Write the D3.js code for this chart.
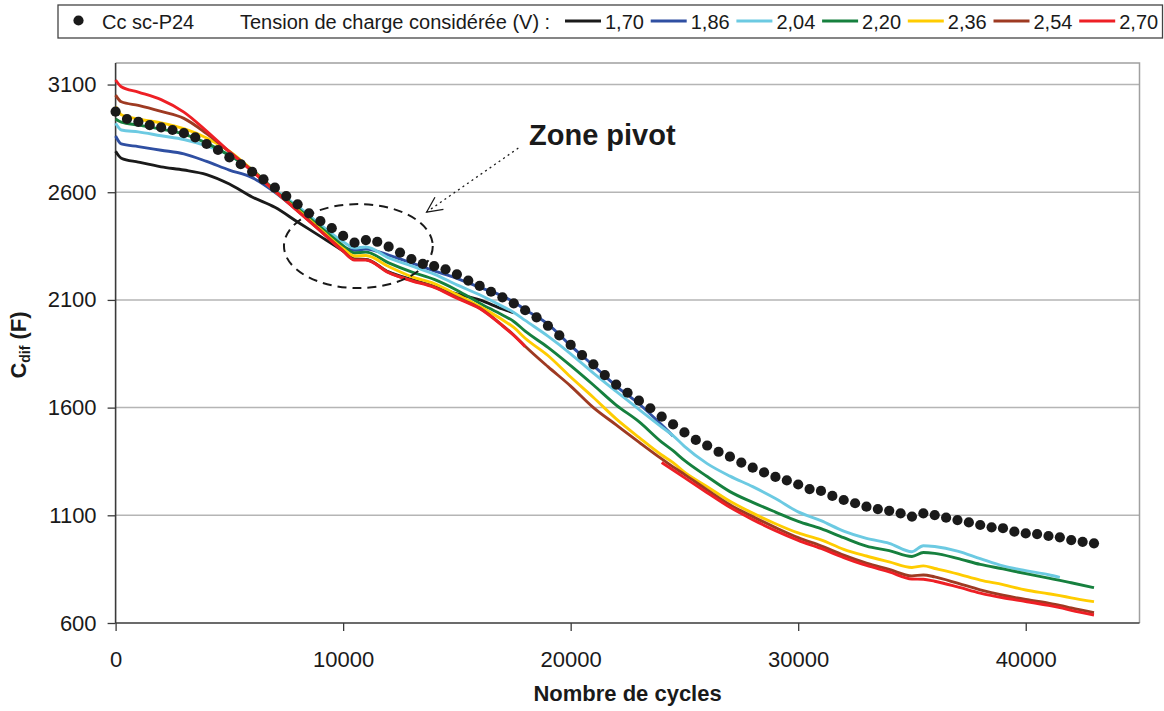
<!DOCTYPE html>
<html><head><meta charset="utf-8">
<script src="https://cdn.jsdelivr.net/npm/d3@7"></script>
<style>
body{margin:0;background:#fff}
svg{display:block}
text{font-family:"Liberation Sans",Arial,Helvetica,sans-serif;fill:#1a1a1a}
</style>
</head><body>
<svg id="chart" width="1164" height="711"></svg>
<script>
// ---------- DATA ----------
const cycles = [0,250,1000,2000,3000,4000,5000,6000,7000,8000,9000,10000,10500,11000,12000,13000,14000,15000,16000,17000,17500,18000,19000,20000,21000,22000,23000,24000,24500,25000,26000,27000,28000,29000,30000,31000,32000,33000,34000,35000,35500,36000,37000,38000,39000,40000,41000,41500,42000,43000];

const v170 = [2790,2758,2740,2718,2703,2682,2638,2578,2530,2462,2395,2327,2290,2288,2230,2195,2162,2128,2100,2058,2040,null,null,null,null,null,null,null,null,null,null,null,null,null,null,null,null,null,null,null,null,null,null,null,null,null,null,null,null,null];
const v186 = [2861,2824,2812,2795,2778,2743,2703,2668,2600,2515,2428,2345,2330,2336,2308,2272,2235,2200,2158,2118,2090,2055,1988,1888,1795,1700,1618,1520,1468,null,null,null,null,null,null,null,null,null,null,null,null,null,null,null,null,null,null,null,null,null];
const v204 = [2920,2889,2880,2862,2845,2815,2773,2700,2612,2535,2450,2370,2341,2346,2295,2258,2220,2170,2124,2070,2042,2005,1932,1850,1760,1675,1592,1510,1470,1420,1340,1282,1233,1178,1116,1075,1027,993,970,931,959,955,934,899,865,843,824,812,null,null];
const v220 = [2940,2925,2912,2893,2870,2828,2771,2705,2608,2526,2438,2352,2318,2322,2272,2230,2195,2145,2085,2030,2000,1955,1880,1795,1705,1612,1535,1440,1400,1355,1280,1210,1160,1115,1072,1038,996,957,936,909,927,923,900,872,851,829,808,798,787,764];
const v236 = [2997,2960,2940,2922,2895,2852,2790,2703,2605,2518,2428,2338,2304,2306,2255,2208,2176,2125,2070,2008,1972,1922,1842,1742,1647,1548,1462,1380,1345,1300,1233,1165,1110,1061,1018,986,942,911,884,858,865,853,828,799,778,753,736,727,717,699];
const v254 = [3051,3020,3003,2975,2943,2872,2788,2700,2607,2514,2422,2328,2287,2287,2228,2191,2161,2112,2062,1982,1937,1885,1790,1700,1600,1520,1440,1362,1325,1290,1218,1149,1094,1043,996,958,915,878,849,819,823,814,785,754,729,709,692,682,670,648];
const v270 = [3121,3090,3065,3030,2972,2884,2788,2698,2605,2512,2420,2326,2285,2285,2226,2189,2158,2108,2060,1980,1935,1883,null,null,null,null,null,1345,1310,1275,1205,1137,1080,1029,984,946,904,867,837,804,803,794,768,739,717,700,682,672,659,637];

const dotCycles = [0,500,1000,1500,2000,2500,3000,3500,4000,4500,5000,5500,6000,6500,7000,7500,8000,8500,9000,9500,10000,10500,11000,11500,12000,12500,13000,13500,14000,14500,15000,15500,16000,16500,17000,17500,18000,18500,19000,19500,20000,20500,21000,21500,22000,22500,23000,23500,24000,24500,25000,25500,26000,26500,27000,27500,28000,28500,29000,29500,30000,30500,31000,31500,32000,32500,33000,33500,34000,34500,35000,35500,36000,36500,37000,37500,38000,38500,39000,39500,40000,40500,41000,41500,42000,42500,43000];
const dotValues = [2974,2940,2927,2912,2901,2889,2874,2855,2824,2796,2762,2730,2695,2660,2621,2582,2544,2502,2466,2433,2397,2366,2378,2370,2347,2320,2290,2267,2257,2242,2219,2190,2165,2138,2112,2084,2052,2019,1980,1935,1891,1844,1801,1751,1707,1669,1632,1597,1558,1522,1485,1450,1424,1395,1372,1345,1321,1299,1278,1262,1243,1222,1213,1190,1171,1156,1140,1129,1121,1109,1094,1109,1101,1089,1078,1067,1055,1044,1040,1024,1016,1013,1004,998,985,977,970];

const seriesLabels = ["1,70","1,86","2,04","2,20","2,36","2,54","2,70"];
const seriesValues = [v170, v186, v204, v220, v236, v254, v270];
const seriesColors = ["#1a1a1a","#2f4fa2","#6ccae2","#16803e","#ffcc00","#9e3a22","#ee1f25"];
const dotLabel = "Cc sc-P24";
const legendTitle = "Tension de charge considérée (V) :";
const xTicks = [0,10000,20000,30000,40000];
const yTicks = [600,1100,1600,2100,2600,3100];

// ---------- LAYOUT ----------
const svg = d3.select("#chart");
const x = d3.scaleLinear().domain([0,45000]).range([115.6,1139.5]);
const y = d3.scaleLinear().domain([600,3200]).range([623,63]);

// gridlines
svg.append("g").selectAll("line").data(yTicks.filter(t=>t>600)).join("line")
  .attr("x1",x(0)).attr("x2",x(45000)).attr("y1",d=>y(d)).attr("y2",d=>y(d))
  .attr("stroke","#b5b5b5").attr("stroke-width",1.5);
// plot border (top/right)
svg.append("path").attr("d",`M${x(0)},${y(3200)}H${x(45000)}V${y(600)}`)
  .attr("fill","none").attr("stroke","#a0a0a0").attr("stroke-width",1.5);

// axes
const xAxis = svg.append("g").attr("transform",`translate(0,${y(600)})`)
  .call(d3.axisBottom(x).tickValues(xTicks).tickSize(8).tickPadding(20).tickFormat(d3.format("d")));
const yAxis = svg.append("g").attr("transform",`translate(${x(0)},0)`)
  .call(d3.axisLeft(y).tickValues(yTicks).tickSize(8).tickPadding(11).tickFormat(d3.format("d")));
[xAxis,yAxis].forEach(g=>{
  g.select(".domain").attr("stroke","#3a3a3a").attr("stroke-width",1.6);
  g.selectAll(".tick line").attr("stroke","#3a3a3a").attr("stroke-width",1.3);
  g.selectAll(".tick text").attr("font-size",22).attr("fill","#1a1a1a")
   .attr("font-family","'Liberation Sans',Arial,sans-serif");
});
xAxis.select(".domain").attr("d",`M${x(0)},0H${x(45000)}`);
yAxis.select(".domain").attr("d",`M0,${y(600)}V${y(3200)}`);

// lines
const line = d3.line().defined(d=>d[1]!=null).curve(d3.curveMonotoneX).x(d=>x(d[0])).y(d=>y(d[1]));
svg.append("g").selectAll("path").data(seriesValues).join("path")
  .attr("d",vals=>line(cycles.map((c,i)=>[c,vals[i]])))
  .attr("fill","none").attr("stroke",(d,i)=>seriesColors[i])
  .attr("stroke-width",2.9).attr("stroke-linejoin","round");

// dots
svg.append("g").selectAll("circle").data(dotCycles).join("circle")
  .attr("cx",d=>x(d)).attr("cy",(d,i)=>y(dotValues[i])).attr("r",5.1).attr("fill","#1a1a1a");

// axis titles
svg.append("text").attr("x",(x(0)+x(45000))/2).attr("y",701).attr("text-anchor","middle")
  .attr("font-size",22).attr("font-weight","bold").text("Nombre de cycles");
const yt = svg.append("text").attr("transform","translate(26,345) rotate(-90)")
  .attr("text-anchor","middle").attr("font-size",22).attr("font-weight","bold");
yt.append("tspan").text("C");
yt.append("tspan").attr("font-size",14).attr("dy",4).text("dif");
yt.append("tspan").attr("dy",-4).text(" (F)");

// annotation: ellipse + arrow + label
const ec = [10670, 2350];
svg.append("ellipse").attr("cx",x(ec[0])).attr("cy",y(ec[1]))
  .attr("rx",x(ec[0]+3270)-x(ec[0])).attr("ry",y(ec[1]-195)-y(ec[1]))
  .attr("fill","none").attr("stroke","#1a1a1a").attr("stroke-width",2).attr("stroke-dasharray","9,6");
const a0 = [x(17700), y(2805)], a1 = [x(13670), y(2508)];
svg.append("line").attr("x1",a0[0]).attr("y1",a0[1]).attr("x2",a1[0]).attr("y2",a1[1])
  .attr("stroke","#1a1a1a").attr("stroke-width",1.3).attr("stroke-dasharray","2,3.5");
const ang = Math.atan2(a0[1]-a1[1], a0[0]-a1[0]);
const headLen = 17, spread = 0.45;
svg.append("path")
  .attr("d",`M${a1[0]+headLen*Math.cos(ang-spread)},${a1[1]+headLen*Math.sin(ang-spread)}L${a1[0]},${a1[1]}L${a1[0]+headLen*Math.cos(ang+spread)},${a1[1]+headLen*Math.sin(ang+spread)}`)
  .attr("fill","none").attr("stroke","#1a1a1a").attr("stroke-width",1.3);
svg.append("text").attr("x",x(18170)).attr("y",y(2819)).attr("font-size",29).attr("font-weight","bold")
  .text("Zone pivot");

// legend
const lg = svg.append("g");
lg.append("rect").attr("x",58).attr("y",5).attr("width",1104.5).attr("height",33)
  .attr("fill","#fff").attr("stroke","#444").attr("stroke-width",1.3);
lg.append("circle").attr("cx",78.5).attr("cy",20.5).attr("r",5.1).attr("fill","#1a1a1a");
lg.append("text").attr("x",102).attr("y",28.5).attr("font-size",20).text(dotLabel);
lg.append("text").attr("x",240).attr("y",28.5).attr("font-size",20).text(legendTitle);
const items = lg.selectAll("g.it").data(seriesLabels).join("g").attr("class","it")
  .attr("transform",(d,i)=>`translate(${565+i*85.7},0)`);
items.append("line").attr("x1",0).attr("x2",36).attr("y1",21).attr("y2",21)
  .attr("stroke",(d,i)=>seriesColors[i]).attr("stroke-width",3);
items.append("text").attr("x",40).attr("y",28.5).attr("font-size",20).text(d=>d);
</script>
</body></html>
